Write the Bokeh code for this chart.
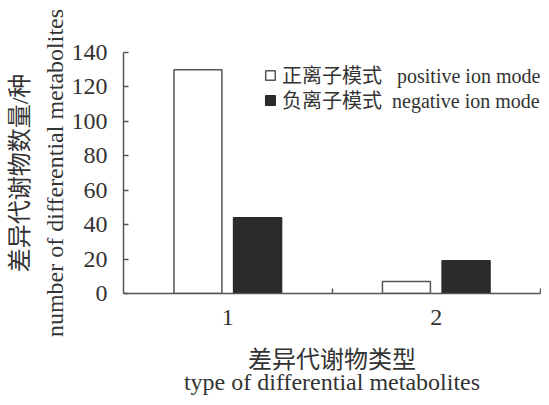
from bokeh.plotting import figure
from bokeh.models import (ColumnDataSource, Range1d, FixedTicker, Legend, LegendItem, LinearAxis)
from bokeh.transform import dodge
from bokeh.embed import file_html
from bokeh.resources import INLINE

# ---- data ----
categories = [1, 2]
tick_labels = ["1", "2"]
positive = [130, 7]
negative = [44, 19]
y_ticks = [0, 20, 40, 60, 80, 100, 120, 140]

legend_pos = "正离子模式\u00a0\u00a0\u00a0positive ion mode"
legend_neg = "负离子模式\u00a0\u00a0negative ion mode"
y_title_cn = "差异代谢物数量/种"
y_title_en = "number of differential metabolites"
x_title_cn = "差异代谢物类型"
x_title_en = "type of differential metabolites"

FONT = "'Liberation Serif', 'Noto Sans CJK SC', serif"
TXT = "#333333"
LINE = "#555555"

src = ColumnDataSource(dict(x=categories, pos=positive, neg=negative))

p = figure(width=541, height=397, output_backend="svg", toolbar_location=None,
           x_range=Range1d(0.5, 2.5), y_range=Range1d(0, 140),
           min_border_left=123, min_border_right=1, min_border_top=52, min_border_bottom=104)
p.outline_line_color = None
p.grid.grid_line_color = None
p.background_fill_color = "white"
p.border_fill_color = "white"

r_pos = p.vbar(x=dodge("x", -0.143, range=p.x_range), top="pos", width=0.23, source=src,
               fill_color="white", line_color=LINE, line_width=1.5)
r_neg = p.vbar(x=dodge("x", 0.143, range=p.x_range), top="neg", width=0.23, source=src,
               fill_color="#2b2b2b", line_color="#2b2b2b", line_width=1.5)

def style_label(ax, size="24px"):
    ax.axis_label_text_font = FONT
    ax.axis_label_text_font_size = size
    ax.axis_label_text_font_style = "normal"
    ax.axis_label_text_color = TXT

# x axis (main)
xa = p.xaxis[0]
xa.ticker = FixedTicker(ticks=categories, minor_ticks=[1.5, 2.5])
xa.major_label_overrides = {c: t for c, t in zip(categories, tick_labels)}
xa.major_tick_line_color = None
xa.minor_tick_in = 5
xa.minor_tick_out = 0
xa.minor_tick_line_color = LINE
xa.minor_tick_line_width = 1.5
xa.axis_line_color = LINE
xa.axis_line_width = 1.5
xa.major_label_text_font = FONT
xa.major_label_text_font_size = "24px"
xa.major_label_text_color = TXT
xa.major_label_standoff = 10
xa.axis_label = x_title_cn
xa.axis_label_standoff = 19
xa.axis_label_text_line_height = 1.0
style_label(xa)

# second x title line
xa2 = LinearAxis(ticker=FixedTicker(ticks=[]), axis_line_color=None,
                 major_tick_line_color=None, minor_tick_line_color=None,
                 major_label_standoff=0, major_tick_out=0, major_tick_in=0,
                 axis_label=x_title_en, axis_label_standoff=-7,
                 axis_label_text_line_height=1.0)
style_label(xa2)
p.add_layout(xa2, "below")

# y axis (main)
ya = p.yaxis[0]
ya.ticker = FixedTicker(ticks=y_ticks)
ya.minor_tick_line_color = None
ya.major_tick_in = 5
ya.major_tick_out = 0
ya.major_tick_line_color = LINE
ya.major_tick_line_width = 1.5
ya.axis_line_color = LINE
ya.axis_line_width = 1.5
ya.major_label_text_font = FONT
ya.major_label_text_font_size = "24px"
ya.major_label_text_color = TXT
ya.major_label_standoff = 16
ya.axis_label = y_title_en
ya.axis_label_standoff = 1
style_label(ya)

# first y title line (outermost)
ya2 = LinearAxis(ticker=FixedTicker(ticks=[]), axis_line_color=None,
                 major_tick_line_color=None, minor_tick_line_color=None,
                 major_label_standoff=0, major_tick_out=0, major_tick_in=0,
                 axis_label=y_title_cn, axis_label_standoff=6)
style_label(ya2)
p.add_layout(ya2, "left")

leg_style = dict(orientation="vertical", glyph_width=12, glyph_height=12, label_standoff=6,
                 spacing=0, padding=0, margin=0, border_line_color=None,
                 background_fill_alpha=0, label_text_font=FONT,
                 label_text_font_size="20px", label_text_color=TXT)
leg1 = Legend(items=[LegendItem(label=legend_pos, renderers=[r_pos])],
              location=(141, 204), **leg_style)
leg2 = Legend(items=[LegendItem(label=legend_neg, renderers=[r_neg])],
              location=(141, 179), **leg_style)
p.add_layout(leg1, "center")
p.add_layout(leg2, "center")

open("out.html", "w").write(file_html(p, INLINE))
